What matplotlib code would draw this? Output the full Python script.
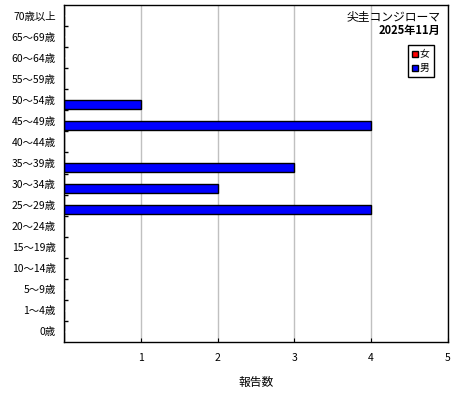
import numpy as np
import matplotlib.pyplot as plt

plt.rcParams['font.family'] = ['Noto Sans CJK JP', 'DejaVu Sans']

# age groups from bottom to top
ages = ["0歳", "1～4歳", "5～9歳", "10～14歳", "15～19歳", "20～24歳", "25～29歳",
        "30～34歳", "35～39歳", "40～44歳", "45～49歳", "50～54歳", "55～59歳",
        "60～64歳", "65～69歳", "70歳以上"]
male = [0, 0, 0, 0, 0, 0, 4, 2, 3, 0, 4, 1, 0, 0, 0, 0]
female = [0, 0, 0, 0, 0, 0, 0, 0, 0, 0, 0, 0, 0, 0, 0, 0]
xticks = [1, 2, 3, 4, 5]

fig = plt.figure(figsize=(4.6, 4), dpi=100)
ax = fig.add_axes([64/460, 58/400, 384/460, 337/400])

y = np.arange(len(ages))
ax.barh(y + 0.22, female, height=0.42, color="#ff0000", edgecolor="black", linewidth=1, label="女")
ax.barh(y - 0.22, male, height=0.42, color="#0000ff", edgecolor="black", linewidth=1, label="男")

ax.set_xlim(0, 5)
ax.set_ylim(-0.5, len(ages) - 0.5)
ax.set_xticks(xticks)
ax.set_xticklabels([str(v) for v in xticks], fontsize=7.5)
ax.set_yticks(y)
ax.set_yticklabels(ages, fontsize=7.5)
ax.set_yticks(np.arange(len(ages) - 1) + 0.5, minor=True)
ax.tick_params(axis='y', which='major', length=0, pad=6)
ax.tick_params(axis='y', which='minor', length=3, direction='in', width=1)
ax.tick_params(axis='x', length=3, direction='in', pad=8)
ax.grid(axis='x', color="#c0c0c0", linewidth=1)
ax.set_axisbelow(True)
for s in ax.spines.values():
    s.set_linewidth(1)

ax.set_xlabel("報告数", fontsize=8.5, labelpad=9)

ax.text(0.98, 0.985, "尖圭コンジローマ", transform=ax.transAxes, ha="right", va="top", fontsize=8.5)
ax.text(0.98, 0.945, "2025年11月", transform=ax.transAxes, ha="right", va="top", fontsize=8, fontweight="bold")

ax.legend(loc="upper right", bbox_to_anchor=(0.975, 0.895), fontsize=7, handlelength=0.6, handleheight=0.6,
          handletextpad=0.2, borderpad=0.4, labelspacing=0.4, fancybox=False, edgecolor="black",
          framealpha=1)

plt.savefig("out.png")
